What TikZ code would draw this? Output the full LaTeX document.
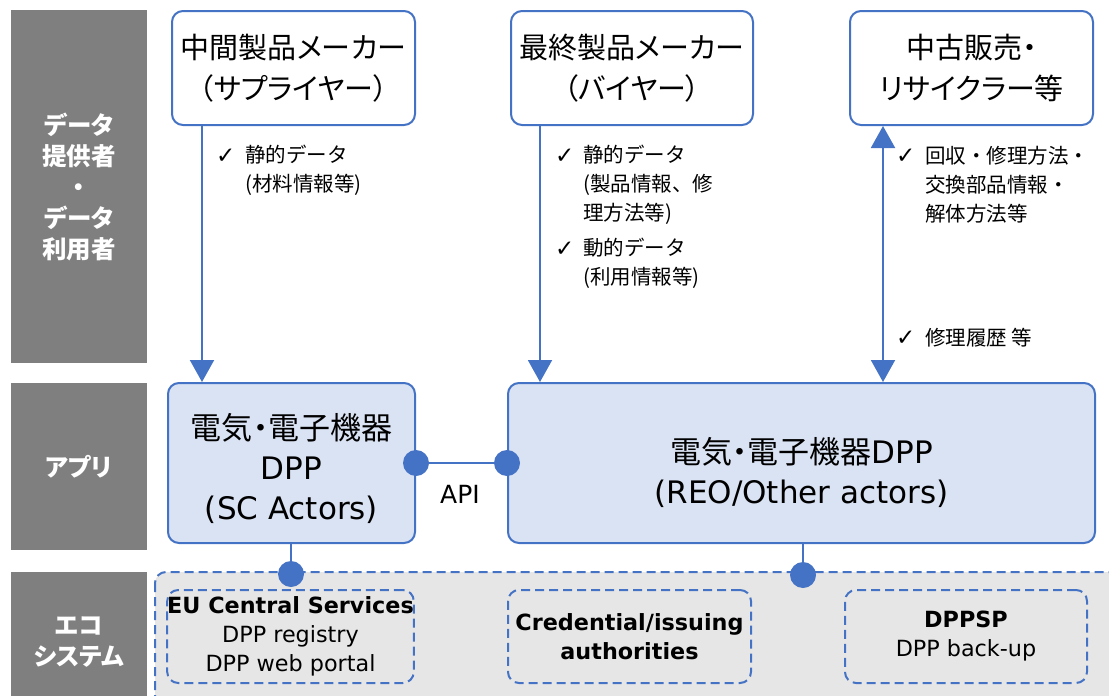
\documentclass[tikz,border=0pt]{standalone}
\usepackage{fontspec}
\setmainfont{DejaVu Sans}
\newfontfamily\jp{Noto Sans CJK JP}
\newfontfamily\jpp[RawFeature=+palt]{Noto Sans CJK JP}
\usetikzlibrary{arrows.meta}
\definecolor{accent}{HTML}{4472C4}
\definecolor{appfill}{HTML}{DAE3F3}
\definecolor{band}{HTML}{7F7F7F}
\definecolor{ecofill}{HTML}{E7E6E6}
\newcommand{\ck}{{\rmfamily\fontsize{23}{24}\selectfont ✓}}

\begin{document}
\begin{tikzpicture}[x=1pt,y=-1pt,
  lane/.style={fill=band, draw=none, text=white, align=center, inner sep=0pt,
    minimum width=136pt, font=\jpp\bfseries\fontsize{24.5}{31}\selectfont},
  actor/.style={draw=accent, line width=2pt, fill=white, rounded corners=11pt,
    align=center, inner sep=0pt, font=\jpp\fontsize{29}{41}\selectfont},
  app/.style={actor, fill=appfill, font=\jpp\fontsize{31}{40}\selectfont},
  eco/.style={draw=accent, line width=2pt, dash pattern=on 9pt off 5pt,
    rounded corners=11pt, align=center, inner sep=0pt,
    font=\rmfamily\fontsize{22.3}{29}\selectfont},
  note/.style={anchor=west, align=left, inner sep=0pt,
    font=\jp\fontsize{20.5}{29}\selectfont},
  tick/.style={anchor=west, inner sep=0pt},
  flow/.style={draw=accent, line width=2pt,
    -{Triangle[width=24pt,length=22pt]}},
  flow2/.style={draw=accent, line width=2pt,
    {Triangle[width=24pt,length=22pt]}-{Triangle[width=24pt,length=22pt]}},
  link/.style={draw=accent, line width=2pt},
  dot/.style={circle, fill=accent, inner sep=0pt, minimum size=26pt}
]
\useasboundingbox (0,0) rectangle (1109,696);

% ---- row labels
\node[lane, minimum height=353pt] (lane1) at (79,186.5)
  {データ\\提供者\\・\\データ\\利用者};
\node[lane, minimum height=167pt] (lane2) at (79,466.5) {アプリ};
\node[lane, minimum height=140pt] (lane3) at (79,642) {エコ\\システム};

% ---- data providers / users
\node[actor, minimum width=243pt, minimum height=114pt] (maker1) at (293.5,68)
  {中間製品メーカー\\（サプライヤー）};
\node[actor, minimum width=242pt, minimum height=114pt] (maker2) at (632,68)
  {最終製品メーカー\\（バイヤー）};
\node[actor, minimum width=243pt, minimum height=114pt] (resale) at (971.5,68)
  {中古販売・\\リサイクラー等};

% ---- applications (a strut on the first line lowers the text block)
\node[app, minimum width=247pt, minimum height=160pt] (dppsc) at (291.5,463)
  {\rule{0pt}{37pt}電気・電子機器\\{\rmfamily DPP}\\{\rmfamily (SC Actors)}};
\node[app, minimum width=587pt, minimum height=160pt] (dppreo) at (801.5,463)
  {\rule{0pt}{45pt}電気・電子機器{\rmfamily DPP}\\{\rmfamily (REO/Other actors)}};

% ---- ecosystem
\draw[eco, fill=ecofill] (155,572) rectangle (1125,712);
\node[eco, minimum width=245pt, minimum height=93pt] (eucs) at (290.5,636.5)
  {\textbf{EU Central Services}\\DPP registry\\DPP web portal};
\node[eco, minimum width=243pt, minimum height=93pt] (cred) at (629.5,636.5)
  {\textbf{Credential/issuing}\\\textbf{authorities}};
\node[eco, minimum width=242pt, minimum height=93pt] (dppsp) at (966,636.5)
  {\textbf{DPPSP}\\DPP back-up};

% ---- data flows
\draw[flow] (maker1.south -| 202,0) -- (dppsc.north -| 202,0);
\draw[flow] (maker2.south -| 540,0) -- (dppreo.north -| 540,0);
\draw[flow2] (resale.south -| 883,0) -- (dppreo.north -| 883,0);

\node[tick] (t1) at (216,156) {\ck};
\node[note] (n1) at (245,170.5) {静的データ\\(材料情報等)};
\node[tick] (t2) at (555,156) {\ck};
\node[note] (n2) at (583,185) {静的データ\\(製品情報、修\\理方法等)};
\node[tick] (t3) at (555,249) {\ck};
\node[note] (n3) at (583,263.5) {動的データ\\(利用情報等)};
\node[tick] (t4) at (896,156) {\ck};
\node[note] (n4) at (925,185) {回収・修理方法・\\交換部品情報・\\解体方法等};
\node[tick] (t5) at (896,338) {\ck};
\node[note] (n5) at (925,338) {修理履歴 等};

% ---- API between the two applications
\node[dot] (api1) at (dppsc.east) {};
\node[dot] (api2) at (dppreo.west) {};
\draw[link] (api1) -- (api2);
\node[font=\rmfamily\fontsize{25}{28}\selectfont, inner sep=0pt] (api) at (460,494) {API};

% ---- application to ecosystem
\node[dot] (eco1) at (291,574) {};
\node[dot] (eco2) at (803,575) {};
\draw[link] (dppsc.south -| eco1) -- (eco1);
\draw[link] (dppreo.south -| eco2) -- (eco2);
\end{tikzpicture}
\end{document}
